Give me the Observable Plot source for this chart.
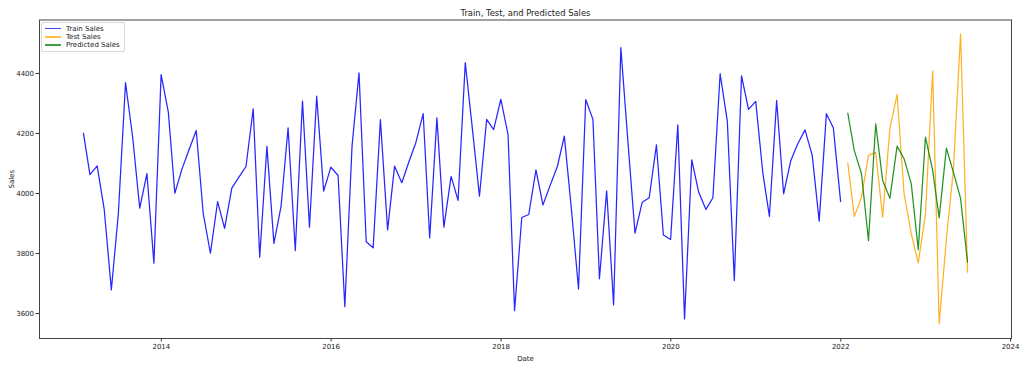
<!DOCTYPE html>
<html>
<head>
<meta charset="utf-8">
<script src="https://cdn.jsdelivr.net/npm/d3@7"></script>
<script src="https://cdn.jsdelivr.net/npm/@observablehq/plot@0.6"></script>
<style>
  html, body { margin: 0; padding: 0; background: #fff; }
  #wrap { position: relative; width: 1024px; height: 368px; font-family: "DejaVu Sans", sans-serif; }
  #legend { position: absolute; left: 41px; top: 21.5px; padding: 2px 4px 2px 3px; border: 1px solid #d8d8d8; border-radius: 2px; background: rgba(255,255,255,0.8); font-size: 7px; color: #222; line-height: 8.3px; }
  #legend .row { display: flex; align-items: center; }
  #legend .sw { width: 16px; height: 1.5px; margin-right: 5px; opacity: 0.75; }
</style>
</head>
<body>
<div id="wrap"><div id="legend"></div></div>
<script>
const title = "Train, Test, and Predicted Sales";
const seriesNames = ["Train Sales", "Test Sales", "Predicted Sales"];
const seriesColors = ["blue", "orange", "green"];

const trainStart = "2013-01";
const trainValues = [
  4200, 4063, 4092, 3949, 3679, 3932, 4369, 4185, 3951, 4066, 3768, 4396,
  4271, 4001, 4082, 4146, 4210, 3934, 3801, 3973, 3884, 4018, 4054, 4090,
  4282, 3788, 4157, 3834, 3958, 4219, 3810, 4308, 3888, 4324, 4008, 4088,
  4060, 3623, 4157, 4402, 3839, 3819, 4246, 3879, 4091, 4036, 4104, 4171,
  4266, 3852, 4252, 3888, 4057, 3977, 4436, 4213, 3991, 4247, 4213, 4314,
  4196, 3610, 3920, 3930, 4079, 3962, 4027, 4090, 4191, 3943, 3682, 4313,
  4247, 3716, 4009, 3629, 4486, 4177, 3868, 3971, 3986, 4162, 3862, 3847,
  4229, 3582, 4112, 4004, 3947, 3986, 4399, 4240, 3710, 4392, 4280, 4307,
  4066, 3924, 4310, 3999, 4110, 4166, 4212, 4127, 3908, 4266, 4218, 3974
];

const testStart = "2022-01";
const testValues = [
  4102, 3923, 3988, 4127, 4137, 3921, 4216, 4330, 3999, 3866, 3769, 3932,
  4408, 3566, 3849, 4077, 4532, 3738
];
const predictedValues = [
  4268, 4143, 4066, 3843, 4232, 4043, 3984, 4158, 4116, 4032, 3813, 4188,
  4077, 3919, 4151, 4071, 3984, 3771
];

const yTicks = [3600, 3800, 4000, 4200, 4400];
const xTickYears = [2014, 2016, 2018, 2020, 2022, 2024];

// month-end dates
function monthEnds(start, n) {
  const s = new Date(start + "-01T00:00:00Z");
  return d3.range(n).map(i => d3.utcDay.offset(d3.utcMonth.offset(s, i + 1), -1));
}
function toRows(start, values, name) {
  const dates = monthEnds(start, values.length);
  return values.map((v, i) => ({date: dates[i], value: v, series: name}));
}
const train = toRows(trainStart, trainValues, seriesNames[0]);
const test = toRows(testStart, testValues, seriesNames[1]);
const pred = toRows(testStart, predictedValues, seriesNames[2]);

const xTicks = xTickYears.map(y => new Date(Date.UTC(y, 0, 1)));

const chart = Plot.plot({
  width: 1024,
  height: 368,
  marginLeft: 39,
  marginRight: 13,
  marginTop: 19.5,
  marginBottom: 30,
  style: {fontFamily: "DejaVu Sans, sans-serif", fontSize: "7px", color: "#222", background: "#fff"},
  x: {type: "utc", domain: [new Date("2012-07-26T00:00:00Z"), new Date("2024-01-05T00:00:00Z")]},
  y: {domain: [3517, 4578]},
  marks: [
    Plot.axisX({ticks: xTicks, tickFormat: d3.utcFormat("%Y"), tickSize: 3.5, tickPadding: 2, stroke: "#333",
      label: "Date", labelAnchor: "center", labelArrow: "none", labelOffset: 22}),
    Plot.axisY({ticks: yTicks, tickFormat: d => String(d), tickSize: 3.5, tickPadding: 2, stroke: "#333",
      label: "Sales", labelAnchor: "center", labelArrow: "none", labelOffset: 30}),
    Plot.line(train, {x: "date", y: "value", stroke: seriesColors[0], strokeWidth: 1.25, strokeOpacity: 0.85}),
    Plot.line(test, {x: "date", y: "value", stroke: seriesColors[1], strokeWidth: 1.25, strokeOpacity: 0.85}),
    Plot.line(pred, {x: "date", y: "value", stroke: seriesColors[2], strokeWidth: 1.25, strokeOpacity: 0.85}),
    Plot.frame({stroke: "#444", strokeWidth: 1}),
    Plot.text([title], {frameAnchor: "top", lineAnchor: "middle", dy: -6.5, text: d => d, fontSize: 8.4, fill: "#222"})
  ]
});
const wrap = document.getElementById("wrap");
wrap.insertBefore(chart, wrap.firstChild);

const legend = document.getElementById("legend");
seriesNames.forEach((name, i) => {
  const row = document.createElement("div");
  row.className = "row";
  const sw = document.createElement("div");
  sw.className = "sw";
  sw.style.background = seriesColors[i];
  const t = document.createElement("span");
  t.textContent = name;
  row.appendChild(sw);
  row.appendChild(t);
  legend.appendChild(row);
});
</script>
</body>
</html>
